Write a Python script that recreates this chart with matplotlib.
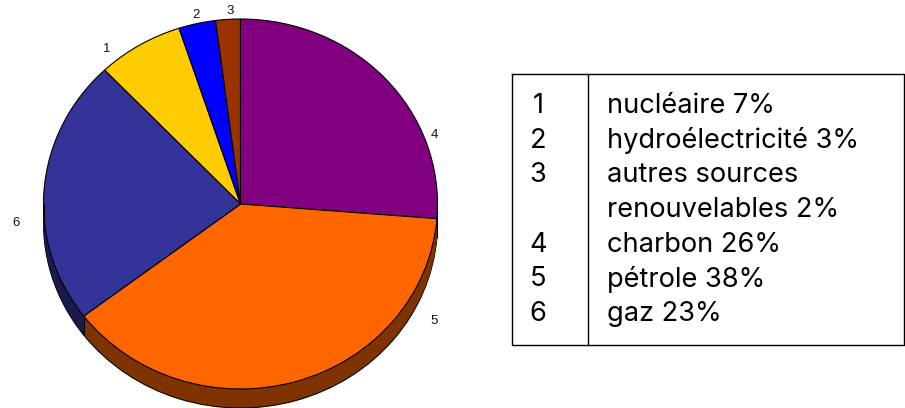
import matplotlib
matplotlib.use("Agg")
import matplotlib.pyplot as plt
import numpy as np

plt.rcParams['font.family'] = ['Liberation Sans', 'DejaVu Sans']

# Legend order, as in the table on the right
numbers = ['1', '2', '3', '4', '5', '6']
shares = [7, 3, 2, 26, 38, 23]
table_lines = ['nucléaire 7%', 'hydroélectricité 3%', 'autres sources',
               'renouvelables 2%', 'charbon 26%', 'pétrole 38%', 'gaz 23%']
table_numbers = ['1', '2', '3', '', '4', '5', '6']
colors = ['#FFCC00', '#0000FF', '#993300', '#800080', '#FF6600', '#333399']
side_colors = ['#7F6600', '#00007F', '#4C1900', '#400040', '#7F3300', '#1A1A4D']

W, H = 905, 408
cx, cy = 240.5, 204   # pie centre, pixels from top left
rx, ry = 197, 185
depth = 19 / ry       # thickness of the side, in pie radii
pad = 1.3

fig = plt.figure(figsize=(W / 100, H / 100), dpi=100)

# axes scaled so that the unit circle of the pie comes out as the ellipse
ax = fig.add_axes([(cx - pad * rx) / W, (H - cy - pad * ry) / H,
                   2 * pad * rx / W, 2 * pad * ry / H])

# first wedge (nucleaire) ends where the three small ones reach the top
start = 90 + sum(shares[:3]) / sum(shares) * 360
edge = {'edgecolor': 'black', 'linewidth': 0.8}

# side of the pie: stacked copies going down, outlined at the very bottom
for d in np.linspace(depth, 0, 20)[:-1]:
    wp = {'edgecolor': 'none', 'linewidth': 0} if d < depth else edge
    ax.pie(shares, colors=side_colors, startangle=start, counterclock=False,
           center=(0, -d), radius=1, wedgeprops=wp, normalize=True)

# vertical edges of the side
bounds = start - np.cumsum([0] + shares) / sum(shares) * 360
for a in list(bounds) + [180]:
    x, y = np.cos(np.radians(a)), np.sin(np.radians(a))
    if y <= 0.01:
        ax.plot([x, x], [y, y - depth], color='black', lw=0.8, solid_capstyle='butt')

ax.pie(shares, colors=colors, startangle=start, counterclock=False,
       center=(0, 0), radius=1, wedgeprops=edge, normalize=True)
ax.set_aspect('auto')
ax.set_xlim(-pad, pad)
ax.set_ylim(-pad, pad)
ax.axis('off')

# pie labels, pixel positions over the whole figure
overlay = fig.add_axes([0, 0, 1, 1])
overlay.set_xlim(0, W)
overlay.set_ylim(H, 0)
overlay.axis('off')
label_x = [107, 196, 230, 434, 434, 16]
label_y = [48, 13, 9, 133, 320, 222]
for n, x, y in zip(numbers, label_x, label_y):
    overlay.text(x, y, n, fontsize=9.5, ha='center', va='center_baseline', color='#111111')

# table
overlay.plot([512, 904, 904, 512, 512], [74, 74, 345, 345, 74], color='black', lw=1.0)
overlay.plot([588, 588], [74, 345], color='black', lw=1.0)
for i, (n, line) in enumerate(zip(table_numbers, table_lines)):
    y = 103 + i * 34.7
    overlay.text(538, y, n, fontsize=19.6, family='Inter', ha='center', va='center_baseline', color='black')
    overlay.text(607, y, line, fontsize=19.6, family='Inter', ha='left', va='center_baseline', color='black')

fig.savefig('out.png', dpi=100, facecolor='white')
